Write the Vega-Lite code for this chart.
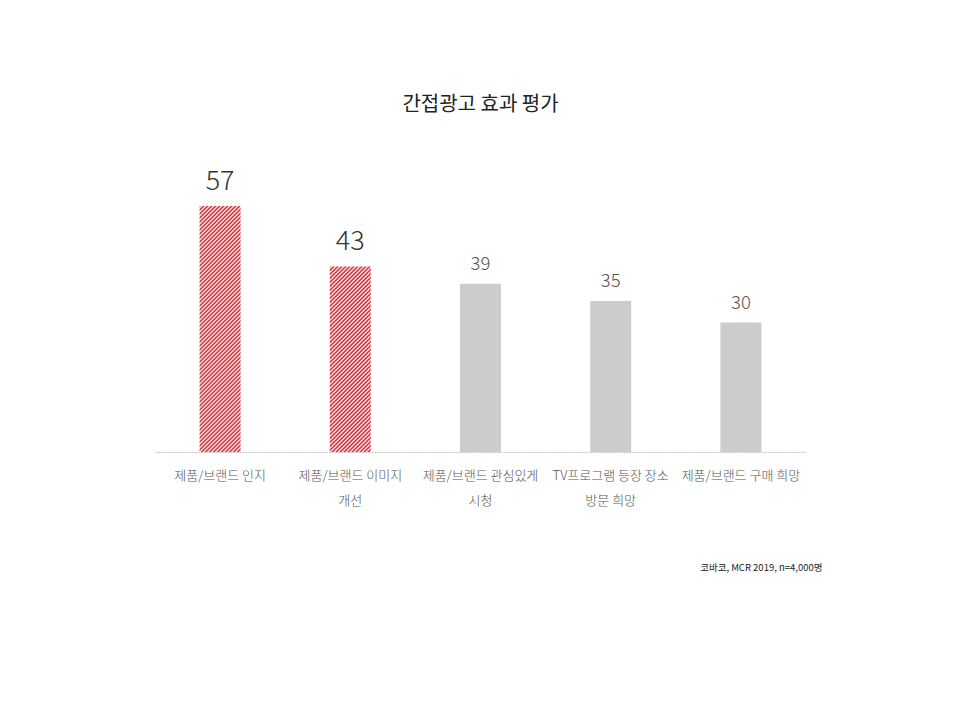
{
  "$schema": "https://vega.github.io/schema/vega-lite/v6.json",
  "width": 651,
  "height": 302,
  "autosize": {"type": "none"},
  "padding": {"left": 155, "top": 150, "right": 154, "bottom": 268},
  "background": "white",
  "title": {
    "text": "간접광고 효과 평가",
    "font": "Noto Sans CJK KR",
    "fontSize": 20,
    "fontWeight": 400,
    "color": "#222222",
    "anchor": "middle",
    "offset": 35
  },
  "data": {
    "values": [
      {"item": "제품/브랜드 인지", "value": 57},
      {"item": "제품/브랜드 이미지 개선", "value": 43},
      {"item": "제품/브랜드 관심있게 시청", "value": 39},
      {"item": "TV프로그램 등장 장소 방문 희망", "value": 35},
      {"item": "제품/브랜드 구매 희망", "value": 30}
    ]
  },
  "encoding": {
    "x": {
      "field": "item",
      "type": "nominal",
      "scale": {
        "domain": ["제품/브랜드 인지", "제품/브랜드 이미지 개선", "제품/브랜드 관심있게 시청", "TV프로그램 등장 장소 방문 희망", "제품/브랜드 구매 희망"],
        "paddingInner": 0.685,
        "paddingOuter": 0.3425
      },
      "axis": {
        "title": "코바코, MCR 2019, n=4,000명",
        "titleFont": "Noto Sans CJK KR",
        "titleFontSize": 9.5,
        "titleFontWeight": 400,
        "titleColor": "#222222",
        "titleAnchor": null,
        "titleAlign": "right",
        "titleBaseline": "alphabetic",
        "titleX": 667,
        "titleY": 118,
        "labelExpr": "datum.value == '제품/브랜드 이미지 개선' ? ['제품/브랜드 이미지', '개선'] : datum.value == '제품/브랜드 관심있게 시청' ? ['제품/브랜드 관심있게', '시청'] : datum.value == 'TV프로그램 등장 장소 방문 희망' ? ['TV프로그램 등장 장소', '방문 희망'] : datum.label",
        "labelAngle": 0,
        "labelFont": "Noto Sans CJK KR",
        "labelFontSize": 13,
        "labelFontWeight": 300,
        "labelColor": "#555555",
        "labelLineHeight": 25,
        "labelPadding": 17,
        "labelOverlap": false,
        "labelBound": false,
        "ticks": false,
        "domainColor": "#c4c4c4",
        "domainDash": [2, 1],
        "domainWidth": 1
      }
    },
    "y": {
      "field": "value",
      "type": "quantitative",
      "scale": {"domain": [0, 70], "nice": false},
      "axis": null
    }
  },
  "layer": [
    {
      "transform": [{"filter": {"field": "item", "oneOf": ["제품/브랜드 관심있게 시청", "TV프로그램 등장 장소 방문 희망", "제품/브랜드 구매 희망"]}}],
      "mark": {"type": "bar", "color": "#cccccc"}
    },
    {
      "transform": [{"filter": {"field": "item", "equal": "제품/브랜드 인지"}}],
      "mark": {
        "type": "bar",
        "color": {
          "gradient": "linear",
          "x1": 0, "y1": 0, "x2": 0.26368, "y2": 1.58207,
          "stops": [
            {"offset": 0, "color": "#c0141f"}, {"offset": 0.005, "color": "#ffffff"}, {"offset": 0.01, "color": "#c0141f"}, {"offset": 0.015, "color": "#ffffff"}, {"offset": 0.02, "color": "#c0141f"}, {"offset": 0.025, "color": "#ffffff"}, {"offset": 0.03, "color": "#c0141f"}, {"offset": 0.035, "color": "#ffffff"}, {"offset": 0.04, "color": "#c0141f"}, {"offset": 0.045, "color": "#ffffff"},
            {"offset": 0.05, "color": "#c0141f"}, {"offset": 0.055, "color": "#ffffff"}, {"offset": 0.06, "color": "#c0141f"}, {"offset": 0.065, "color": "#ffffff"}, {"offset": 0.07, "color": "#c0141f"}, {"offset": 0.075, "color": "#ffffff"}, {"offset": 0.08, "color": "#c0141f"}, {"offset": 0.085, "color": "#ffffff"}, {"offset": 0.09, "color": "#c0141f"}, {"offset": 0.095, "color": "#ffffff"},
            {"offset": 0.1, "color": "#c0141f"}, {"offset": 0.105, "color": "#ffffff"}, {"offset": 0.11, "color": "#c0141f"}, {"offset": 0.115, "color": "#ffffff"}, {"offset": 0.12, "color": "#c0141f"}, {"offset": 0.125, "color": "#ffffff"}, {"offset": 0.13, "color": "#c0141f"}, {"offset": 0.135, "color": "#ffffff"}, {"offset": 0.14, "color": "#c0141f"}, {"offset": 0.145, "color": "#ffffff"},
            {"offset": 0.15, "color": "#c0141f"}, {"offset": 0.155, "color": "#ffffff"}, {"offset": 0.16, "color": "#c0141f"}, {"offset": 0.165, "color": "#ffffff"}, {"offset": 0.17, "color": "#c0141f"}, {"offset": 0.175, "color": "#ffffff"}, {"offset": 0.18, "color": "#c0141f"}, {"offset": 0.185, "color": "#ffffff"}, {"offset": 0.19, "color": "#c0141f"}, {"offset": 0.195, "color": "#ffffff"},
            {"offset": 0.2, "color": "#c0141f"}, {"offset": 0.205, "color": "#ffffff"}, {"offset": 0.21, "color": "#c0141f"}, {"offset": 0.215, "color": "#ffffff"}, {"offset": 0.22, "color": "#c0141f"}, {"offset": 0.225, "color": "#ffffff"}, {"offset": 0.23, "color": "#c0141f"}, {"offset": 0.235, "color": "#ffffff"}, {"offset": 0.24, "color": "#c0141f"}, {"offset": 0.245, "color": "#ffffff"},
            {"offset": 0.25, "color": "#c0141f"}, {"offset": 0.255, "color": "#ffffff"}, {"offset": 0.26, "color": "#c0141f"}, {"offset": 0.265, "color": "#ffffff"}, {"offset": 0.27, "color": "#c0141f"}, {"offset": 0.275, "color": "#ffffff"}, {"offset": 0.28, "color": "#c0141f"}, {"offset": 0.285, "color": "#ffffff"}, {"offset": 0.29, "color": "#c0141f"}, {"offset": 0.295, "color": "#ffffff"},
            {"offset": 0.3, "color": "#c0141f"}, {"offset": 0.305, "color": "#ffffff"}, {"offset": 0.31, "color": "#c0141f"}, {"offset": 0.315, "color": "#ffffff"}, {"offset": 0.32, "color": "#c0141f"}, {"offset": 0.325, "color": "#ffffff"}, {"offset": 0.33, "color": "#c0141f"}, {"offset": 0.335, "color": "#ffffff"}, {"offset": 0.34, "color": "#c0141f"}, {"offset": 0.345, "color": "#ffffff"},
            {"offset": 0.35, "color": "#c0141f"}, {"offset": 0.355, "color": "#ffffff"}, {"offset": 0.36, "color": "#c0141f"}, {"offset": 0.365, "color": "#ffffff"}, {"offset": 0.37, "color": "#c0141f"}, {"offset": 0.375, "color": "#ffffff"}, {"offset": 0.38, "color": "#c0141f"}, {"offset": 0.385, "color": "#ffffff"}, {"offset": 0.39, "color": "#c0141f"}, {"offset": 0.395, "color": "#ffffff"},
            {"offset": 0.4, "color": "#c0141f"}, {"offset": 0.405, "color": "#ffffff"}, {"offset": 0.41, "color": "#c0141f"}, {"offset": 0.415, "color": "#ffffff"}, {"offset": 0.42, "color": "#c0141f"}, {"offset": 0.425, "color": "#ffffff"}, {"offset": 0.43, "color": "#c0141f"}, {"offset": 0.435, "color": "#ffffff"}, {"offset": 0.44, "color": "#c0141f"}, {"offset": 0.445, "color": "#ffffff"},
            {"offset": 0.45, "color": "#c0141f"}, {"offset": 0.455, "color": "#ffffff"}, {"offset": 0.46, "color": "#c0141f"}, {"offset": 0.465, "color": "#ffffff"}, {"offset": 0.47, "color": "#c0141f"}, {"offset": 0.475, "color": "#ffffff"}, {"offset": 0.48, "color": "#c0141f"}, {"offset": 0.485, "color": "#ffffff"}, {"offset": 0.49, "color": "#c0141f"}, {"offset": 0.495, "color": "#ffffff"},
            {"offset": 0.5, "color": "#c0141f"}, {"offset": 0.505, "color": "#ffffff"}, {"offset": 0.51, "color": "#c0141f"}, {"offset": 0.515, "color": "#ffffff"}, {"offset": 0.52, "color": "#c0141f"}, {"offset": 0.525, "color": "#ffffff"}, {"offset": 0.53, "color": "#c0141f"}, {"offset": 0.535, "color": "#ffffff"}, {"offset": 0.54, "color": "#c0141f"}, {"offset": 0.545, "color": "#ffffff"},
            {"offset": 0.55, "color": "#c0141f"}, {"offset": 0.555, "color": "#ffffff"}, {"offset": 0.56, "color": "#c0141f"}, {"offset": 0.565, "color": "#ffffff"}, {"offset": 0.57, "color": "#c0141f"}, {"offset": 0.575, "color": "#ffffff"}, {"offset": 0.58, "color": "#c0141f"}, {"offset": 0.585, "color": "#ffffff"}, {"offset": 0.59, "color": "#c0141f"}, {"offset": 0.595, "color": "#ffffff"},
            {"offset": 0.6, "color": "#c0141f"}, {"offset": 0.605, "color": "#ffffff"}, {"offset": 0.61, "color": "#c0141f"}, {"offset": 0.615, "color": "#ffffff"}, {"offset": 0.62, "color": "#c0141f"}, {"offset": 0.625, "color": "#ffffff"}, {"offset": 0.63, "color": "#c0141f"}, {"offset": 0.635, "color": "#ffffff"}, {"offset": 0.64, "color": "#c0141f"}, {"offset": 0.645, "color": "#ffffff"},
            {"offset": 0.65, "color": "#c0141f"}, {"offset": 0.655, "color": "#ffffff"}, {"offset": 0.66, "color": "#c0141f"}, {"offset": 0.665, "color": "#ffffff"}, {"offset": 0.67, "color": "#c0141f"}, {"offset": 0.675, "color": "#ffffff"}, {"offset": 0.68, "color": "#c0141f"}, {"offset": 0.685, "color": "#ffffff"}, {"offset": 0.69, "color": "#c0141f"}, {"offset": 0.695, "color": "#ffffff"},
            {"offset": 0.7, "color": "#c0141f"}, {"offset": 0.705, "color": "#ffffff"}, {"offset": 0.71, "color": "#c0141f"}, {"offset": 0.715, "color": "#ffffff"}, {"offset": 0.72, "color": "#c0141f"}
          ]
        }
      }
    },
    {
      "transform": [{"filter": {"field": "item", "equal": "제품/브랜드 이미지 개선"}}],
      "mark": {
        "type": "bar",
        "color": {
          "gradient": "linear",
          "x1": 0, "y1": 0, "x2": 0.4544, "y2": 2.0559,
          "stops": [
            {"offset": 0, "color": "#c0141f"}, {"offset": 0.005, "color": "#ffffff"}, {"offset": 0.01, "color": "#c0141f"}, {"offset": 0.015, "color": "#ffffff"}, {"offset": 0.02, "color": "#c0141f"}, {"offset": 0.025, "color": "#ffffff"}, {"offset": 0.03, "color": "#c0141f"}, {"offset": 0.035, "color": "#ffffff"}, {"offset": 0.04, "color": "#c0141f"}, {"offset": 0.045, "color": "#ffffff"},
            {"offset": 0.05, "color": "#c0141f"}, {"offset": 0.055, "color": "#ffffff"}, {"offset": 0.06, "color": "#c0141f"}, {"offset": 0.065, "color": "#ffffff"}, {"offset": 0.07, "color": "#c0141f"}, {"offset": 0.075, "color": "#ffffff"}, {"offset": 0.08, "color": "#c0141f"}, {"offset": 0.085, "color": "#ffffff"}, {"offset": 0.09, "color": "#c0141f"}, {"offset": 0.095, "color": "#ffffff"},
            {"offset": 0.1, "color": "#c0141f"}, {"offset": 0.105, "color": "#ffffff"}, {"offset": 0.11, "color": "#c0141f"}, {"offset": 0.115, "color": "#ffffff"}, {"offset": 0.12, "color": "#c0141f"}, {"offset": 0.125, "color": "#ffffff"}, {"offset": 0.13, "color": "#c0141f"}, {"offset": 0.135, "color": "#ffffff"}, {"offset": 0.14, "color": "#c0141f"}, {"offset": 0.145, "color": "#ffffff"},
            {"offset": 0.15, "color": "#c0141f"}, {"offset": 0.155, "color": "#ffffff"}, {"offset": 0.16, "color": "#c0141f"}, {"offset": 0.165, "color": "#ffffff"}, {"offset": 0.17, "color": "#c0141f"}, {"offset": 0.175, "color": "#ffffff"}, {"offset": 0.18, "color": "#c0141f"}, {"offset": 0.185, "color": "#ffffff"}, {"offset": 0.19, "color": "#c0141f"}, {"offset": 0.195, "color": "#ffffff"},
            {"offset": 0.2, "color": "#c0141f"}, {"offset": 0.205, "color": "#ffffff"}, {"offset": 0.21, "color": "#c0141f"}, {"offset": 0.215, "color": "#ffffff"}, {"offset": 0.22, "color": "#c0141f"}, {"offset": 0.225, "color": "#ffffff"}, {"offset": 0.23, "color": "#c0141f"}, {"offset": 0.235, "color": "#ffffff"}, {"offset": 0.24, "color": "#c0141f"}, {"offset": 0.245, "color": "#ffffff"},
            {"offset": 0.25, "color": "#c0141f"}, {"offset": 0.255, "color": "#ffffff"}, {"offset": 0.26, "color": "#c0141f"}, {"offset": 0.265, "color": "#ffffff"}, {"offset": 0.27, "color": "#c0141f"}, {"offset": 0.275, "color": "#ffffff"}, {"offset": 0.28, "color": "#c0141f"}, {"offset": 0.285, "color": "#ffffff"}, {"offset": 0.29, "color": "#c0141f"}, {"offset": 0.295, "color": "#ffffff"},
            {"offset": 0.3, "color": "#c0141f"}, {"offset": 0.305, "color": "#ffffff"}, {"offset": 0.31, "color": "#c0141f"}, {"offset": 0.315, "color": "#ffffff"}, {"offset": 0.32, "color": "#c0141f"}, {"offset": 0.325, "color": "#ffffff"}, {"offset": 0.33, "color": "#c0141f"}, {"offset": 0.335, "color": "#ffffff"}, {"offset": 0.34, "color": "#c0141f"}, {"offset": 0.345, "color": "#ffffff"},
            {"offset": 0.35, "color": "#c0141f"}, {"offset": 0.355, "color": "#ffffff"}, {"offset": 0.36, "color": "#c0141f"}, {"offset": 0.365, "color": "#ffffff"}, {"offset": 0.37, "color": "#c0141f"}, {"offset": 0.375, "color": "#ffffff"}, {"offset": 0.38, "color": "#c0141f"}, {"offset": 0.385, "color": "#ffffff"}, {"offset": 0.39, "color": "#c0141f"}, {"offset": 0.395, "color": "#ffffff"},
            {"offset": 0.4, "color": "#c0141f"}, {"offset": 0.405, "color": "#ffffff"}, {"offset": 0.41, "color": "#c0141f"}, {"offset": 0.415, "color": "#ffffff"}, {"offset": 0.42, "color": "#c0141f"}, {"offset": 0.425, "color": "#ffffff"}, {"offset": 0.43, "color": "#c0141f"}, {"offset": 0.435, "color": "#ffffff"}, {"offset": 0.44, "color": "#c0141f"}, {"offset": 0.445, "color": "#ffffff"},
            {"offset": 0.45, "color": "#c0141f"}, {"offset": 0.455, "color": "#ffffff"}, {"offset": 0.46, "color": "#c0141f"}, {"offset": 0.465, "color": "#ffffff"}, {"offset": 0.47, "color": "#c0141f"}, {"offset": 0.475, "color": "#ffffff"}, {"offset": 0.48, "color": "#c0141f"}, {"offset": 0.485, "color": "#ffffff"}, {"offset": 0.49, "color": "#c0141f"}, {"offset": 0.495, "color": "#ffffff"},
            {"offset": 0.5, "color": "#c0141f"}, {"offset": 0.505, "color": "#ffffff"}, {"offset": 0.51, "color": "#c0141f"}, {"offset": 0.515, "color": "#ffffff"}, {"offset": 0.52, "color": "#c0141f"}, {"offset": 0.525, "color": "#ffffff"}, {"offset": 0.53, "color": "#c0141f"}, {"offset": 0.535, "color": "#ffffff"}, {"offset": 0.54, "color": "#c0141f"}, {"offset": 0.545, "color": "#ffffff"},
            {"offset": 0.55, "color": "#c0141f"}, {"offset": 0.555, "color": "#ffffff"}, {"offset": 0.56, "color": "#c0141f"}, {"offset": 0.565, "color": "#ffffff"}, {"offset": 0.57, "color": "#c0141f"}
          ]
        }
      }
    },
    {
      "transform": [{"filter": {"field": "item", "oneOf": ["제품/브랜드 인지", "제품/브랜드 이미지 개선"]}}],
      "mark": {"type": "text", "font": "Noto Sans CJK KR", "fontSize": 27, "fontWeight": 300, "color": "#333333", "baseline": "alphabetic", "dy": -16},
      "encoding": {"text": {"field": "value", "type": "quantitative"}}
    },
    {
      "transform": [{"filter": {"field": "item", "oneOf": ["제품/브랜드 관심있게 시청", "TV프로그램 등장 장소 방문 희망", "제품/브랜드 구매 희망"]}}],
      "mark": {"type": "text", "font": "Noto Sans CJK KR", "fontSize": 18.5, "fontWeight": 300, "color": "#555555", "baseline": "alphabetic", "dy": -14},
      "encoding": {"text": {"field": "value", "type": "quantitative"}}
    }
  ],
  "config": {
    "view": {"stroke": null}
  }
}
